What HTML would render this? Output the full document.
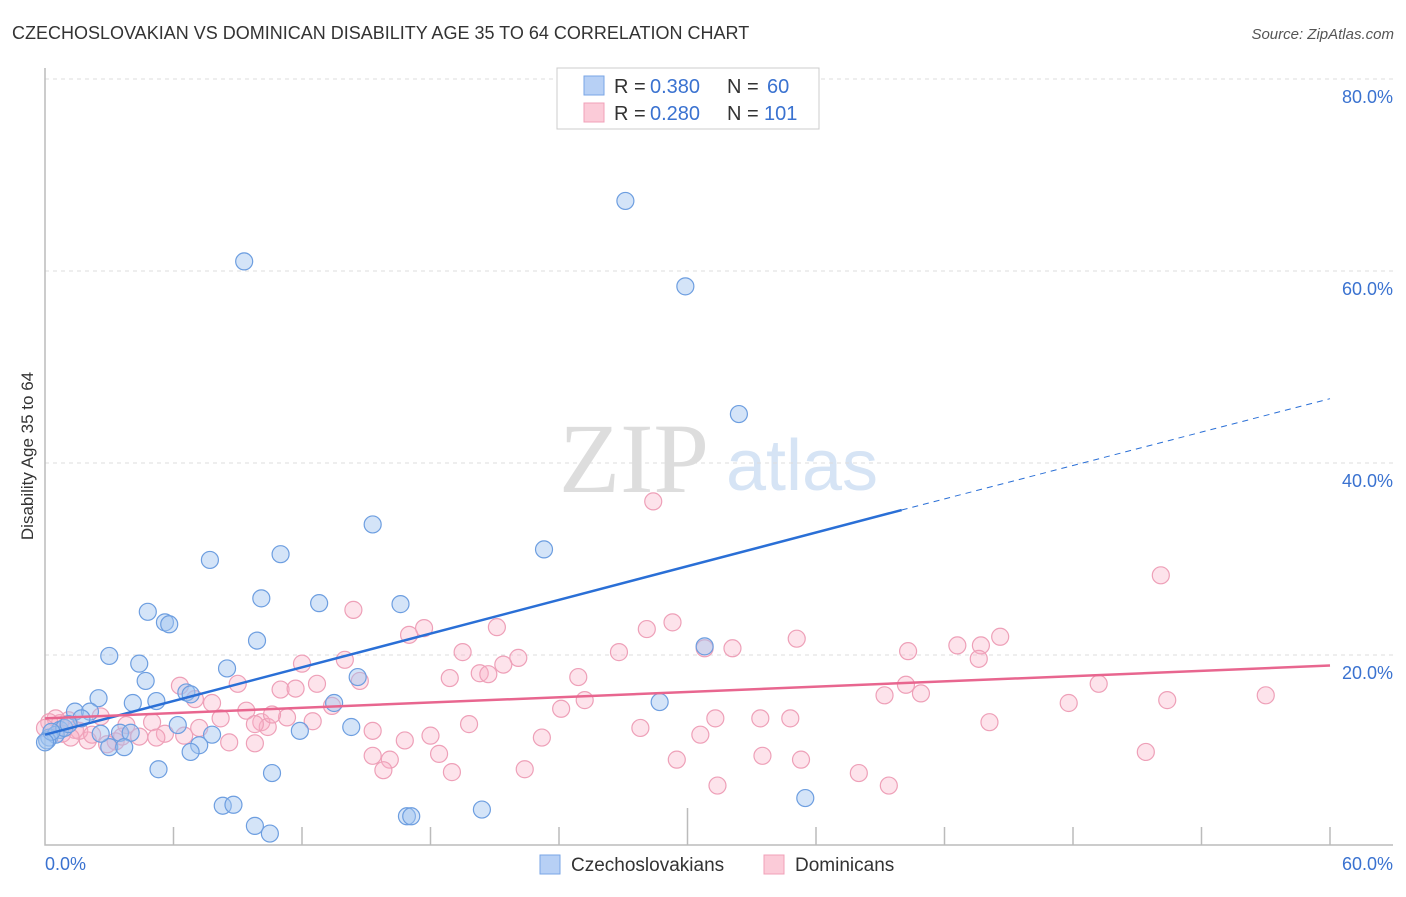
<!DOCTYPE html>
<html><head><meta charset="utf-8"><style>
body{margin:0;background:#fff;font-family:"Liberation Sans",sans-serif}
</style></head><body>
<svg id="chart" width="1406" height="892" viewBox="0 0 1406 892" xmlns="http://www.w3.org/2000/svg" font-family="Liberation Sans, sans-serif">
<text x="12" y="39" font-size="18" fill="#333">CZECHOSLOVAKIAN VS DOMINICAN DISABILITY AGE 35 TO 64 CORRELATION CHART</text>
<text x="1394" y="39" font-size="15" fill="#555" text-anchor="end" font-style="italic">Source: ZipAtlas.com</text>
<text transform="translate(33,456) rotate(-90)" font-size="17" fill="#333" text-anchor="middle">Disability Age 35 to 64</text>
<g>
<text x="634" y="492" font-size="100" fill="#ddd" style="font-family:'Liberation Serif',serif" text-anchor="middle">ZIP</text>
<text x="802" y="490" font-size="72" fill="#d6e4f5" text-anchor="middle">atlas</text>
</g>
<g id="grid"></g>
<g id="axes"></g>
<g id="points"></g>
<g id="trends"></g>
<g>
<rect x="557" y="68" width="262" height="61" fill="#fff" stroke="#ccc"/>
<rect x="584" y="76" width="20" height="19" fill="#b7d0f5" stroke="#7aa6e6"/>
<rect x="584" y="103" width="20" height="19" fill="#fbcbd8" stroke="#f0a0b8"/>
<text x="614" y="93" font-size="20" fill="#333">R =</text>
<text x="650" y="93" font-size="20" fill="#3a72d0">0.380</text>
<text x="727" y="93" font-size="20" fill="#333">N =</text>
<text x="767" y="93" font-size="20" fill="#3a72d0">60</text>
<text x="614" y="120" font-size="20" fill="#333">R =</text>
<text x="650" y="120" font-size="20" fill="#3a72d0">0.280</text>
<text x="727" y="120" font-size="20" fill="#333">N =</text>
<text x="764" y="120" font-size="20" fill="#3a72d0">101</text>
</g>
<g>
<rect x="540" y="855" width="20" height="19" fill="#b7d0f5" stroke="#7aa6e6"/>
<text x="571" y="871" font-size="19" fill="#333">Czechoslovakians</text>
<rect x="764" y="855" width="20" height="19" fill="#fbcbd8" stroke="#f0a0b8"/>
<text x="795" y="871" font-size="19" fill="#333">Dominicans</text>
</g>
</svg>
<script>
const yTicks=[20,40,60,80];
const yTickLabels=["20.0%","40.0%","60.0%","80.0%"];
const xEndLabels=["0.0%","60.0%"];
const blueX=[27.1,9.3,29.9,32.4,15.3,23.3,11.0,7.7,10.1,12.8,16.6,4.8,5.6,5.8,9.9,3.0,4.4,4.7,8.5,6.6,6.8,2.5,4.1,5.2,13.5,14.6,1.4,2.1,1.7,11.9,14.3,28.7,30.8,6.2,7.8,7.2,6.8,3.5,4.0,3.0,3.7,2.6,0.7,0.2,0.5,0.9,5.3,10.6,8.3,8.8,9.8,10.5,16.9,17.1,20.4,35.5,0.1,0.3,1.1,0.0];
const blueY=[67.3,61.0,58.4,45.1,33.6,31.0,30.5,29.9,25.9,25.4,25.3,24.5,23.4,23.2,21.5,19.9,19.1,17.3,18.6,16.1,15.9,15.5,15.0,15.2,15.0,17.7,14.1,14.1,13.4,12.1,12.5,15.1,20.9,12.7,11.7,10.6,9.9,11.9,11.9,10.4,10.4,11.8,12.2,11.4,11.7,12.4,8.1,7.7,4.3,4.4,2.2,1.4,3.2,3.2,3.9,5.1,11.1,12.0,12.8,10.9];
const pinkX=[28.4,52.1,14.4,17.0,21.1,17.7,29.3,28.1,26.8,30.8,32.1,35.1,40.3,42.6,43.7,44.6,43.6,19.5,22.1,12.0,14.0,21.4,20.3,20.7,18.9,24.9,9.0,6.3,11.0,11.7,12.7,14.7,7.0,7.8,9.4,24.1,25.2,39.2,40.2,40.9,49.2,47.8,52.4,57.0,13.4,8.2,5.0,10.1,3.8,12.5,19.8,27.8,31.3,33.4,34.8,44.1,1.1,0.7,0.5,0.2,1.4,2.6,5.6,6.5,4.4,2.0,3.3,5.2,8.6,9.8,10.4,15.3,16.8,18.0,23.2,30.6,15.3,16.1,18.4,19.0,15.8,22.4,29.5,33.5,35.3,38.0,39.4,31.4,51.4,9.8,2.9,1.6,0.8,1.2,2.2,7.2,11.3,10.6,3.6,0.0];
const pinkY=[36.0,28.3,24.7,22.1,22.9,22.8,23.4,22.7,20.3,20.7,20.7,21.7,20.4,21.0,21.0,21.9,19.6,20.3,19.7,19.1,19.5,19.0,18.1,18.0,17.6,17.7,17.0,16.8,16.4,16.5,17.0,17.3,15.4,15.0,14.2,14.4,15.3,15.8,16.9,16.0,17.0,15.0,15.3,15.8,14.7,13.4,13.0,13.0,12.7,13.1,12.8,12.4,13.4,13.4,13.4,13.0,13.2,12.9,13.4,13.0,12.2,13.6,11.8,11.6,11.5,11.1,11.0,11.4,10.9,10.8,12.5,12.1,11.1,11.6,11.4,11.7,9.5,9.1,9.7,7.8,8.0,8.1,9.1,9.5,9.1,7.7,6.4,6.4,9.9,12.8,10.7,12.1,11.8,11.4,11.7,12.4,13.5,13.8,11.5,12.4];
const blueTrend=[11.7,35.1,46.7]; // at x=0, 40, 60
const pinkTrend=[13.4,18.9]; // at x=0, 60
const NS="http://www.w3.org/2000/svg";
const X0=45,X1=1330,Y0=847;
function sx(v){return X0+(v/60)*(X1-X0);}
function sy(v){return Y0-v*9.6;}
function mk(t,a,p){const e=document.createElementNS(NS,t);for(const k in a)e.setAttribute(k,a[k]);p.appendChild(e);return e;}
const grid=document.getElementById('grid'),axes=document.getElementById('axes'),pts=document.getElementById('points'),tr=document.getElementById('trends');
yTicks.forEach((t,i)=>{
 const l=mk('line',{x1:45,x2:1393,y1:sy(t),y2:sy(t),stroke:'#ddd','stroke-dasharray':'4,4'},grid);
 
 
 const tx=mk('text',{x:1393,y:sy(t)+24,'font-size':18,fill:'#3a72d0','text-anchor':'end'},axes);
 tx.textContent=yTickLabels[i];
 
 
});
const ax=mk('path',{d:'M45,68V845H1393',fill:'none',stroke:'#bbb','stroke-width':1.5},axes);


for(let i=1;i<=10;i++){
 const x=sx(i*6);
 const tk=mk('line',{x1:x,x2:x,y1:i==5?808:827,y2:845,stroke:'#bbb','stroke-width':1.5},axes);
 
 
}
[[45,'start'],[1393,'end']].forEach((p,i)=>{
 const t=mk('text',{x:p[0],y:870,'font-size':18,fill:'#3a72d0','text-anchor':p[1]},axes);
 t.textContent=xEndLabels[i];
 
 
});
pinkX.forEach((v,i)=>{
 const c=mk('circle',{cx:sx(v),cy:sy(pinkY[i]),r:8.5,fill:'rgba(248,175,198,0.35)',stroke:'#eea0b8','stroke-width':1.2},pts);
 
 
});
blueX.forEach((v,i)=>{
 const c=mk('circle',{cx:sx(v),cy:sy(blueY[i]),r:8.5,fill:'rgba(160,195,240,0.45)',stroke:'#6d9ee0','stroke-width':1.2},pts);
 
 
});
const b1=mk('line',{x1:sx(0),y1:sy(blueTrend[0]),x2:sx(40),y2:sy(blueTrend[1]),stroke:'#2a6fd6','stroke-width':2.5},tr);


const b2=mk('line',{x1:sx(40),y1:sy(blueTrend[1]),x2:sx(60),y2:sy(blueTrend[2]),stroke:'#2a6fd6','stroke-width':1,'stroke-dasharray':'6,5'},tr);


const p1=mk('line',{x1:sx(0),y1:sy(pinkTrend[0]),x2:sx(60),y2:sy(pinkTrend[1]),stroke:'#e8668f','stroke-width':2.5},tr);


</script>
</body></html>
